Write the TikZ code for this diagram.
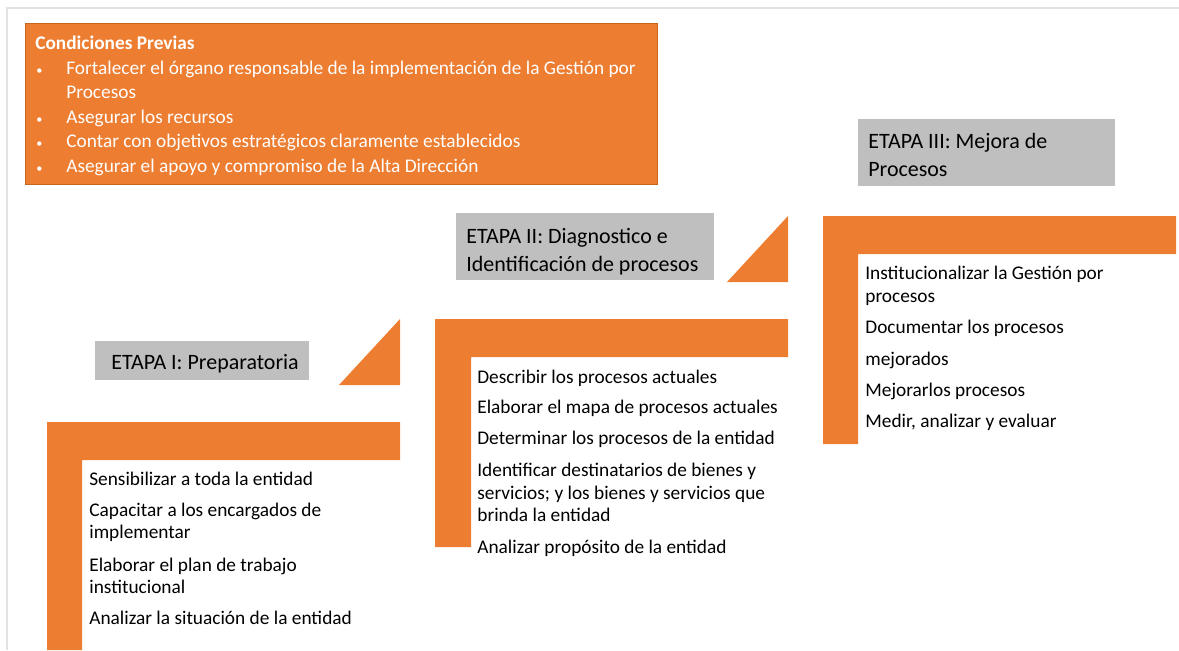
\documentclass[tikz,border=0pt]{standalone}
\usepackage{fontspec}
\setmainfont{Carlito}
\definecolor{naranja}{HTML}{ED7D31}
\definecolor{bordenar}{HTML}{C8651F}
\definecolor{gris}{HTML}{BFBFBF}
\definecolor{marco}{HTML}{E2E2E2}
\tikzset{
	paso/.style={anchor=mid west,inner sep=0pt,yshift=-0.06cm,font=\fontsize{11}{13}\selectfont},
	previa/.style={paso,text=white},
	vineta/.style={previa,font=\fontsize{7}{8}\selectfont},
	etapa/.style={anchor=mid west,inner sep=0pt,yshift=-0.08cm,font=\fontsize{12.5}{15}\selectfont}
}
\begin{document}
\begin{tikzpicture}[x=0.02cm,y=-0.02cm]
	
		\useasboundingbox (0,0) rectangle (1179,650);
		\draw[marco,line width=1.2pt](7,650)--(7,8)--(1179,8);
	
		\draw[fill=naranja,draw=bordenar](25,23) rectangle (657,184);
		\node[previa,font=\bfseries\fontsize{11}{13}\selectfont] (cp) at (35,42) {Condiciones Previas};
		\node[vineta] (b1) at (36,67) {•};
		\node[previa] (p1) at (66,67) {Fortalecer el órgano responsable de la implementación de la Gestión por};
		\node[previa] (p1b) at (66,91) {Procesos};
		\node[vineta] (b2) at (36,116) {•};
		\node[previa] (p2) at (66,116) {Asegurar los recursos};
		\node[vineta] (b3) at (36,140) {•};
		\node[previa] (p3) at (66,140) {Contar con objetivos estratégicos claramente establecidos};
		\node[vineta] (b4) at (36,165) {•};
		\node[previa] (p4) at (66,165) {Asegurar el apoyo y compromiso de la Alta Dirección};
	
		% etapa I
		\fill[gris](95,341) rectangle (309,380);
		\node[etapa] (e1) at (111,361) {ETAPA I: Preparatoria};
		\fill[naranja](339,385)--(400,385)--(400,319)--cycle;
		\fill[naranja](47,422)--(400,422)--(400,460)--(82,460)--(82,650)--(47,650)--cycle;
		\node[paso] (a1) at (89,478) {Sensibilizar a toda la entidad};
		\node[paso] (a2) at (89,509) {Capacitar a los encargados de};
		\node[paso] (a2b) at (89,531) {implementar};
		\node[paso] (a3) at (89,564) {Elaborar el plan de trabajo};
		\node[paso] (a3b) at (89,586) {institucional};
		\node[paso] (a4) at (89,617) {Analizar la situación de la entidad};
	
		% etapa II
		\fill[gris](456,213) rectangle (714,280);
		\node[etapa] (e2) at (466,235) {ETAPA II: Diagnostico e};
		\node[etapa] (e2b) at (466,263) {Identificación de procesos};
		\fill[naranja](727,282)--(788,282)--(788,216)--cycle;
		\fill[naranja](435,319)--(788,319)--(788,357)--(471,357)--(471,547)--(435,547)--cycle;
		\node[paso] (d1) at (477,376) {Describir los procesos actuales};
		\node[paso] (d2) at (477,406) {Elaborar el mapa de procesos actuales};
		\node[paso] (d3) at (477,437) {Determinar los procesos de la entidad};
		\node[paso] (d4) at (477,469) {Identificar destinatarios de bienes y};
		\node[paso] (d4b) at (477,492) {servicios; y los bienes y servicios que};
		\node[paso] (d4c) at (477,514) {brinda la entidad};
		\node[paso] (d5) at (477,546) {Analizar propósito de la entidad};
	
		% etapa III
		\fill[gris](858,119) rectangle (1115,186);
		\node[etapa] (e3) at (868,140) {ETAPA III: Mejora de};
		\node[etapa] (e3b) at (868,168) {Procesos};
		\fill[naranja](823,216)--(1176,216)--(1176,254)--(858,254)--(858,444)--(823,444)--cycle;
		\node[paso] (m1) at (865,272) {Institucionalizar la Gestión por};
		\node[paso] (m1b) at (865,295) {procesos};
		\node[paso] (m2) at (865,326) {Documentar los procesos};
		\node[paso] (m2b) at (865,358) {mejorados};
		\node[paso] (m3) at (865,389) {Mejorarlos procesos};
		\node[paso] (m4) at (865,420) {Medir, analizar y evaluar};
	\end{tikzpicture}
\end{document}
